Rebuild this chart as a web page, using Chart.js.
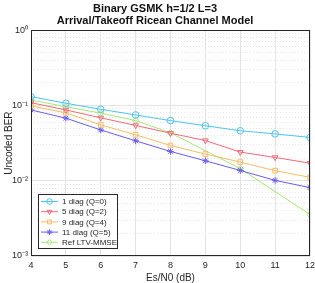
<!DOCTYPE html>
<html><head><meta charset="utf-8">
<script src="https://cdn.jsdelivr.net/npm/chart.js@4.4.0/dist/chart.umd.min.js"></script>
<style>html,body{margin:0;padding:0;background:#fff;}</style>
</head><body>
<canvas id="c" width="315" height="283" style="display:block;width:315px;height:283px"></canvas>
<script>
const snr = [4, 5, 6, 7, 8, 9, 10, 11, 12];
const diag1 = [0.131, 0.107, 0.089, 0.0748, 0.0629, 0.0538, 0.0461, 0.0419, 0.0376];
const diag5 = [0.109, 0.0872, 0.0685, 0.0543, 0.0428, 0.0342, 0.0240, 0.0204, 0.0171];
const diag9 = [0.0987, 0.0798, 0.0552, 0.0408, 0.0294, 0.0226, 0.0177, 0.0136, 0.0111];
const diag11 = [0.0872, 0.0678, 0.0473, 0.0339, 0.0245, 0.0184, 0.0137, 0.0101, 0.0081];
const refMmse = [0.118, 0.0963, 0.079, 0.063, 0.0433, null, 0.0145, null, 0.00355];
const seriesLabels = ['1 diag (Q=0)', '5 diag (Q=2)', '9 diag (Q=4)', '11 diag (Q=5)', 'Ref LTV-MMSE'];
const yTickLabels = {'1': '10\u2070', '0.1': '10\u207B\u00B9', '0.01': '10\u207B\u00B2', '0.001': '10\u207B\u00B3'};
const titleLines = ['Binary GSMK h=1/2 L=3', 'Arrival/Takeoff Ricean Channel Model'];

const colors = ['#4cc3ee', '#f06a78', '#f5bd68', '#6a5cf0', '#a6e67a'];
const styles = [
  {pointStyle: 'circle', rotation: 0},
  {pointStyle: 'triangle', rotation: 180},
  {pointStyle: 'rect', rotation: 0},
  {pointStyle: 'star', rotation: 0},
  {pointStyle: 'rectRot', rotation: 0}
];
const allSeries = [diag1, diag5, diag9, diag11, refMmse];

const datasets = allSeries.map((vals, i) => ({
  label: seriesLabels[i],
  data: snr.map((x, j) => ({x: x, y: vals[j]})),
  borderColor: colors[i],
  backgroundColor: 'rgba(0,0,0,0)',
  borderWidth: 1,
  pointStyle: styles[i].pointStyle,
  rotation: styles[i].rotation,
  pointRadius: 3.3,
  pointBorderWidth: 1,
  pointBorderColor: colors[i],
  pointBackgroundColor: 'rgba(0,0,0,0)',
  spanGaps: true,
  tension: 0
}));

function isDecade(v) {
  const l = Math.log10(v);
  return Math.abs(l - Math.round(l)) < 1e-6;
}

const framePlugin = {
  id: 'frame',
  afterDraw(chart) {
    const a = chart.chartArea, ctx = chart.ctx;
    ctx.save();
    ctx.strokeStyle = '#262626';
    ctx.lineWidth = 1;
    ctx.strokeRect(Math.round(a.left) + 0.5, Math.round(a.top) + 0.5, Math.round(a.right - a.left) - 1, Math.round(a.bottom - a.top) - 1);
    // legend
    const lx = 38, ly = 194, lw = 79, lh = 54;
    ctx.fillStyle = '#fff';
    ctx.fillRect(lx, ly, lw, lh);
    ctx.strokeRect(lx + 0.5, ly + 0.5, lw, lh);
    ctx.font = '8px "Liberation Sans", Arial, sans-serif';
    ctx.textBaseline = 'middle';
    ctx.textAlign = 'left';
    chart.data.datasets.forEach((ds, i) => {
      const y = ly + 7.5 + i * 10.2;
      ctx.strokeStyle = ds.borderColor;
      ctx.lineWidth = 1;
      ctx.beginPath();
      ctx.moveTo(lx + 3, y);
      ctx.lineTo(lx + 20, y);
      ctx.stroke();
      if (Chart.helpers && Chart.helpers.drawPoint) {
        ctx.fillStyle = 'rgba(0,0,0,0)';
        Chart.helpers.drawPoint(ctx, {pointStyle: ds.pointStyle, rotation: ds.rotation, radius: 2.8, borderWidth: 1}, lx + 11.5, y);
      }
      ctx.fillStyle = '#262626';
      ctx.fillText(ds.label, lx + 24, y + 0.5);
    });
    ctx.restore();
  }
};

new Chart(document.getElementById('c'), {
  type: 'line',
  data: {datasets: datasets},
  plugins: [framePlugin],
  options: {
    responsive: false,
    animation: false,
    devicePixelRatio: 1,
    layout: {padding: {left: 0, right: 5, top: 0, bottom: 0}},
    plugins: {
      legend: {display: false},
      tooltip: {enabled: false},
      title: {
        display: true,
        text: titleLines,
        color: '#111',
        font: {family: '"Liberation Sans", Arial, sans-serif', size: 11, weight: 'bold', lineHeight: 1.1},
        padding: {top: 3, bottom: 3}
      }
    },
    scales: {
      x: {
        type: 'linear',
        min: 4, max: 12,
        afterFit(s) { s.height = 27; s.paddingRight = 0; s.paddingLeft = 0; },
        ticks: {stepSize: 1, padding: 4, color: '#262626', font: {family: '"Liberation Sans", Arial, sans-serif', size: 9}},
        grid: {color: '#e3e3e3', drawTicks: false, lineWidth: 1},
        border: {display: false},
        title: {display: true, text: 'Es/N0 (dB)', color: '#262626', font: {family: '"Liberation Sans", Arial, sans-serif', size: 10, lineHeight: 1}, padding: {top: 0, bottom: 0}}
      },
      y: {
        type: 'logarithmic',
        min: 0.001, max: 1,
        afterFit(s) { s.width = 31; },
        afterBuildTicks(s) {
          const t = [];
          for (let e = -3; e <= 0; e++) {
            for (let m = 1; m <= 9; m++) {
              const v = parseFloat((m * Math.pow(10, e)).toPrecision(6));
              if (v <= 1) t.push({value: v});
            }
          }
          s.ticks = t;
        },
        ticks: {
          autoSkip: false,
          padding: 3,
          color: '#262626',
          font: {family: '"Liberation Sans", Arial, sans-serif', size: 9},
          callback(v) { return isDecade(v) ? (yTickLabels[String(parseFloat(v.toPrecision(6)))] || '') : ''; }
        },
        grid: {
          drawTicks: false,
          lineWidth: 1,
          color: (ctx) => (ctx.tick && isDecade(ctx.tick.value)) ? '#e3e3e3' : '#e6e6e6'
        },
        border: {
          display: false,
          dash: (ctx) => (ctx.tick && isDecade(ctx.tick.value)) ? [] : [1, 2]
        },
        title: {display: true, text: 'Uncoded BER', color: '#262626', font: {family: '"Liberation Sans", Arial, sans-serif', size: 10, lineHeight: 1}, padding: {top: 4, bottom: 0}}
      }
    }
  }
});
</script>
</body></html>
